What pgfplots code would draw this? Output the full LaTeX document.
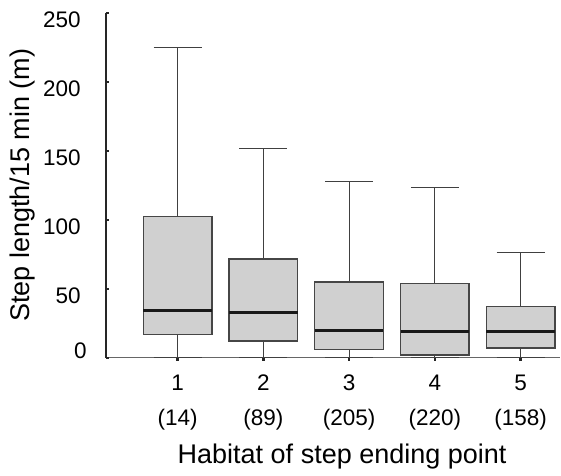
\documentclass[border=0pt]{standalone}
\usepackage{fontspec}
\setmainfont{Liberation Sans}
\usepackage{pgfplots}
\pgfplotsset{compat=1.18}
\definecolor{boxgray}{RGB}{208,208,208}
\definecolor{edgegray}{RGB}{70,70,70}
\begin{document}
\begin{tikzpicture}
\begin{axis}[
  scale only axis,
  width=227pt, height=172.35pt,
  xmin=0.165, xmax=5.46,
  ymin=0, ymax=250,
  clip=false,
  unbounded coords=jump,
  axis x line=bottom, axis y line=left,
  x axis line style={-, draw=black!60, line width=0.6pt},
  y axis line style={-, draw=black!85, line width=0.6pt},
  xtick={1,2,3,4,5},
  xticklabels={1,2,3,4,5},
  extra x ticks={1,2,3,4,5},
  extra x tick labels={(14),(89),(205),(220),(158)},
  extra x tick style={xticklabel style={yshift=-17.5pt}},
  ytick={50,100,150,200,250},
  extra y ticks={0},
  extra y tick style={yticklabel style={anchor=south east, xshift=3pt, yshift=-1.6pt}},
  /pgf/number format/assume math mode=true,
  xtick align=outside, ytick align=inside,
  major tick length=1.5pt,
  tick style={line width=1.2pt, black!85},
  xticklabel style={font=\fontsize{11.25}{13}\selectfont, anchor=base, inner sep=0pt, yshift=-14.65pt},
  yticklabel style={font=\fontsize{11.25}{13}\selectfont, anchor=north east, inner sep=0pt, xshift=-12.5pt, yshift=0.8pt},
  xlabel={Habitat of step ending point},
  ylabel={Step length/15 min (m)},
  xlabel style={font=\fontsize{13.5}{16}\selectfont, at={(axis description cs:0.52,-0.287)}, anchor=center},
  ylabel style={font=\fontsize{13.5}{16}\selectfont, at={(axis description cs:-0.1828,0.5)}, anchor=center},
  whisk/.style={draw=black!75, line width=0.55pt, mark=none},
  box/.style={fill=boxgray, draw=edgegray, line width=0.7pt, mark=none},
  med/.style={draw=black!90, line width=1.6pt, mark=none},
]
% box 1: 0, 17, 34, 102.5, 225
\addplot[whisk] coordinates {(1,102.5) (1,225) (nan,nan) (0.72,225) (1.28,225) (nan,nan) (1,17) (1,0) (nan,nan) (0.72,0) (1.28,0)};
\addplot[box] coordinates {(0.6,17) (1.4,17) (1.4,102.5) (0.6,102.5)} -- cycle;
\addplot[med] coordinates {(0.6,34) (1.4,34)};
% box 2: 0, 12, 33, 71.5, 151.5
\addplot[whisk] coordinates {(2,71.5) (2,151.5) (nan,nan) (1.72,151.5) (2.28,151.5) (nan,nan) (2,12) (2,0) (nan,nan) (1.72,0) (2.28,0)};
\addplot[box] coordinates {(1.6,12) (2.4,12) (2.4,71.5) (1.6,71.5)} -- cycle;
\addplot[med] coordinates {(1.6,33) (2.4,33)};
% box 3: 0, 6, 20, 55, 127.5
\addplot[whisk] coordinates {(3,55) (3,127.5) (nan,nan) (2.72,127.5) (3.28,127.5) (nan,nan) (3,6) (3,0) (nan,nan) (2.72,0) (3.28,0)};
\addplot[box] coordinates {(2.6,6) (3.4,6) (3.4,55) (2.6,55)} -- cycle;
\addplot[med] coordinates {(2.6,20) (3.4,20)};
% box 4: 0, 2, 19, 54, 123.5
\addplot[whisk] coordinates {(4,54) (4,123.5) (nan,nan) (3.72,123.5) (4.28,123.5) (nan,nan) (4,2) (4,0) (nan,nan) (3.72,0) (4.28,0)};
\addplot[box] coordinates {(3.6,2) (4.4,2) (4.4,54) (3.6,54)} -- cycle;
\addplot[med] coordinates {(3.6,19) (4.4,19)};
% box 5: 0, 7, 19, 37, 76
\addplot[whisk] coordinates {(5,37) (5,76) (nan,nan) (4.72,76) (5.28,76) (nan,nan) (5,7) (5,0) (nan,nan) (4.72,0) (5.28,0)};
\addplot[box] coordinates {(4.6,7) (5.4,7) (5.4,37) (4.6,37)} -- cycle;
\addplot[med] coordinates {(4.6,19) (5.4,19)};
\end{axis}
\path[use as bounding box] (-53pt,-57.65pt) rectangle (227.5pt,178.85pt);
\end{tikzpicture}
\end{document}
